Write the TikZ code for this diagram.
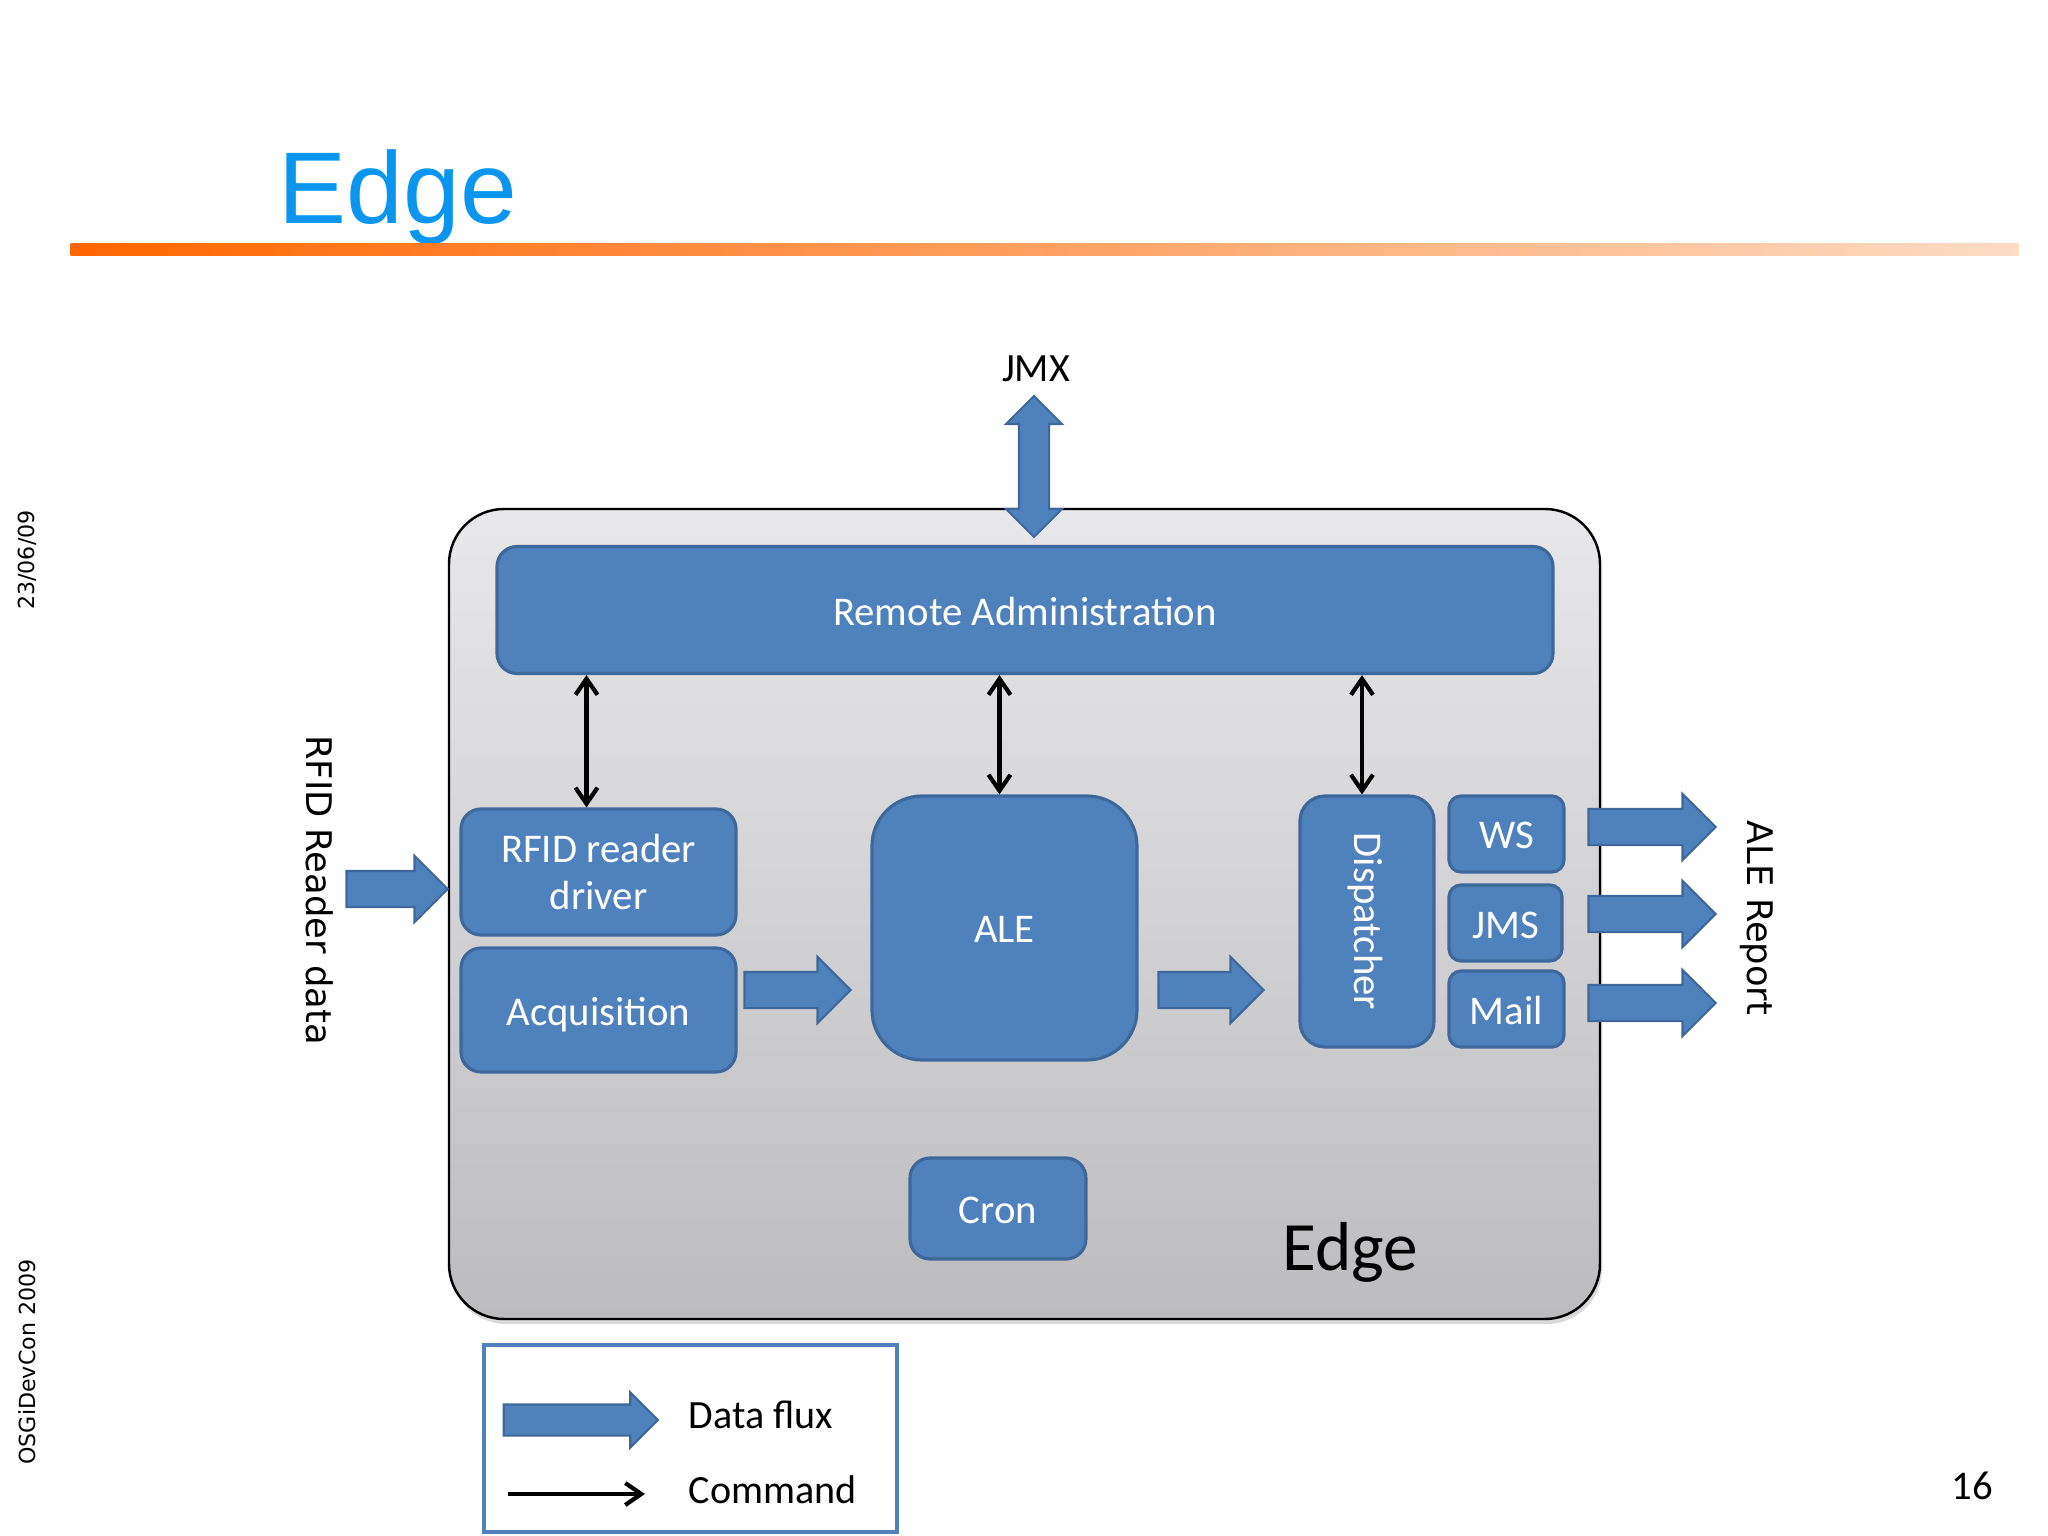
\documentclass[tikz,border=0pt]{standalone}
\usepackage{fontspec}
\setmainfont{Carlito}
\newfontfamily\titlefont{Liberation Sans}
\newfontfamily\sidefont{DejaVu Sans}
\usepackage{xcolor}
\usetikzlibrary{shapes.arrows,arrows.meta,shadows}
\definecolor{boxblue}{RGB}{79,129,189}
\definecolor{boxline}{RGB}{62,104,155}
\definecolor{titleblue}{RGB}{10,150,238}
\definecolor{panellight}{RGB}{232,232,234}
\definecolor{paneldark}{RGB}{188,187,189}
\definecolor{ruleorange}{RGB}{255,102,0}
\definecolor{rulepale}{RGB}{252,220,196}

\begin{document}
\begin{tikzpicture}[x=1cm, y=-1cm]
    \tikzstyle{block} = [rectangle, rounded corners=0.2cm, text centered, align=center, text height=0.3cm, text depth=0pt, draw=boxline, line width=0.9pt, fill=boxblue, text=white, font=\fontsize{11.6}{13.4}\selectfont]
    \tikzstyle{panel} = [rectangle, rounded corners=0.55cm, draw=black, line width=0.7pt, top color=panellight, bottom color=paneldark, drop shadow={shadow xshift=0.02cm, shadow yshift=-0.05cm, opacity=0.3}]
    \tikzstyle{flux} = [single arrow, single arrow head extend=0.15cm, inner sep=0.17cm, draw=boxline, line width=0.6pt, fill=boxblue]
    \tikzstyle{admin} = [double arrow, double arrow head extend=0.13cm, inner sep=0.14cm, minimum height=1.41cm, rotate=90, draw=boxline, line width=0.6pt, fill=boxblue]
    \tikzstyle{command} = [{Straight Barb[length=0.16cm,width=0.22cm]}-{Straight Barb[length=0.16cm,width=0.22cm]}, line width=1.2pt]
    \tikzstyle{label} = [font=\fontsize{11.4}{13}\selectfont]
    \tikzstyle{side} = [rotate=-90, font=\fontsize{10.05}{13}\selectfont\sidefont]
    \tikzstyle{margin} = [rotate=90, font=\fontsize{6.3}{9}\selectfont\sidefont]

    \useasboundingbox (0,0) rectangle (20.48,15.36);

    % Title
    \node [text=titleblue, font=\fontsize{29}{32}\selectfont\titlefont, anchor=base west, inner sep=0pt] (title) at (2.78,2.24) {Edge};
    \node [rectangle, minimum width=19.48cm, minimum height=0.12cm, inner sep=0pt, left color=ruleorange, right color=rulepale, anchor=west] (rule) at (0.7,2.5) {};

    % Margin texts
    \node [margin] (date) at (0.27,5.6) {23/06/09};
    \node [margin] (conf) at (0.27,13.62) {OSGiDevCon 2009};
    \node [font=\fontsize{11.6}{13}\selectfont] (page) at (19.72,14.86) {16};

    % Edge panel
    \node [panel, minimum width=11.51cm, minimum height=8.1cm] (edge) at (10.245,9.14) {};
    \node [font=\fontsize{19.7}{22}\selectfont] (edge_name) at (13.5,12.52) {Edge};

    % Blocks
    \node [block, minimum width=10.56cm, minimum height=1.27cm] (remote) at (10.25,6.1) {Remote Administration};
    \node [block, text height=, text depth=, minimum width=2.75cm, minimum height=1.26cm] (rfid) at (5.985,8.72) {RFID reader\\driver};
    \node [block, minimum width=2.75cm, minimum height=1.24cm] (acq) at (5.985,10.1) {Acquisition};
    \node [block, rounded corners=0.5cm, minimum width=2.65cm, minimum height=2.64cm] (ale) at (10.045,9.28) {ALE};
    \node [block, rotate=-90, text height=0.26cm, rounded corners=0.25cm, minimum width=2.51cm, minimum height=1.34cm] (disp) at (13.67,9.215) {Dispatcher};
    \node [block, rounded corners=0.12cm, minimum width=1.15cm, minimum height=0.76cm] (ws) at (15.065,8.34) {WS};
    \node [block, rounded corners=0.12cm, minimum width=1.13cm, minimum height=0.76cm] (jms) at (15.055,9.23) {JMS};
    \node [block, rounded corners=0.12cm, minimum width=1.15cm, minimum height=0.76cm] (mail) at (15.065,10.09) {Mail};
    \node [block, minimum width=1.76cm, minimum height=1.01cm] (cron) at (9.98,12.085) {Cron};

    % Data flux arrows
    \node [flux, minimum height=1.01cm] (reader_in) at (3.88,8.89) {};
    \node [flux, minimum height=1.06cm] (acq_out) at (7.885,9.9) {};
    \node [flux, minimum height=1.05cm] (ale_out) at (12.02,9.9) {};
    \node [flux, minimum height=1.27cm] (ws_out) at (16.43,8.27) {};
    \node [flux, minimum height=1.27cm] (jms_out) at (16.43,9.14) {};
    \node [flux, minimum height=1.27cm] (mail_out) at (16.43,10.03) {};
    \node [admin] (jmx_arrow) at (10.34,4.665) {};

    % Outer labels
    \node [label] (jmx) at (10.36,3.69) {JMX};
    \node [side] (reader_data) at (3.2,8.9) {RFID Reader data};
    \node [side] (ale_report) at (17.57,9.18) {ALE Report};

    % Commands
    \draw [command] ([xshift=-0.12cm]rfid.north |- remote.south) -- ([xshift=-0.12cm]rfid.north);
    \draw [command] ([xshift=-0.05cm]ale.north |- remote.south) -- ([xshift=-0.05cm]ale.north);
    \draw [command] ([xshift=-0.05cm]disp.west |- remote.south) -- ([xshift=-0.05cm]disp.west);

    % Legend
    \node [rectangle, draw=boxblue, line width=1pt, minimum width=4.13cm, minimum height=1.87cm] (legend) at (6.905,14.385) {};
    \node [flux, minimum height=1.54cm, inner sep=0.145cm, single arrow head extend=0.12cm] (legend_flux) at (5.73,14.2) {};
    \node [label, anchor=west, inner sep=0pt] (legend_data) at (6.88,14.15) {Data flux};
    \node [label, anchor=west, inner sep=0pt] (legend_cmd) at (6.88,14.9) {Command};
    \coordinate (cmd_start) at (5.08,14.94);
    \coordinate (cmd_end) at (6.45,14.94);
    \draw [-{Straight Barb[length=0.16cm,width=0.22cm]}, line width=1.2pt] (cmd_start) -- (cmd_end);
\end{tikzpicture}
\end{document}
